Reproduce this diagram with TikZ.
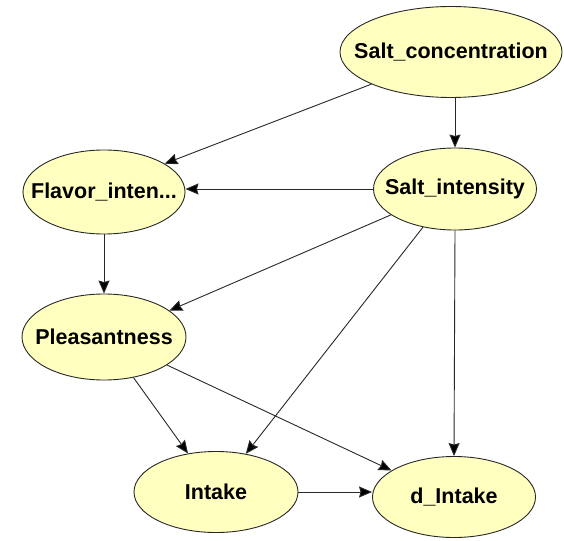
\documentclass[tikz,border=0pt]{standalone}
\usepackage{fontspec}
\setmainfont{Liberation Sans}
\usetikzlibrary{shapes.geometric,arrows.meta}
\definecolor{nodefill}{RGB}{255,255,192}
\definecolor{edgecol}{RGB}{40,40,40}
\begin{document}
\begin{tikzpicture}[x=1pt,y=-1pt,
  % negative inner sep keeps each ellipse at its set size, whatever the label width
  var/.style={ellipse,draw=edgecol,line width=0.9pt,fill=nodefill,
    inner xsep=-90pt,inner ysep=-20pt,
    font=\fontsize{21.5}{24}\selectfont\bfseries,text=black},
  link/.style={draw=edgecol,line width=0.9pt,
    -{Stealth[length=13pt,width=11pt,inset=1.5pt,fill=black]}}]
  \fill[white] (0,0) rectangle (564,540);
  \useasboundingbox (0,0) rectangle (564,540);

  \node[var,minimum width=222pt,minimum height=91pt] (SC) at (451,52) {Salt\_concentration};
  \node[var,minimum width=162pt,minimum height=84pt] (FI) at (104,192) {Flavor\_inten...};
  \node[var,minimum width=163pt,minimum height=82pt] (SI) at (455,189) {Salt\_intensity};
  \node[var,minimum width=164pt,minimum height=86pt] (PL) at (104,337) {Pleasantness};
  \node[var,minimum width=164pt,minimum height=81pt] (IN) at (216,492) {Intake};
  \node[var,minimum width=163pt,minimum height=81pt] (DI) at (454,497) {d\_Intake};

  \draw[link] (SC.202) -- (FI.25);
  \draw[link] (SI.north |- SC.south) -- (SI.north);
  \draw[link] (SI.west) -- (SI.west -| FI.east);
  \draw[link] (SI.202) -- (PL.22);
  \draw[link] (SI.230) -- (IN.52);
  \draw[link] (SI.south) -- (DI.north);
  \draw[link] (FI.south) -- (PL.north);
  \draw[link] (PL.306) -- (IN.126);
  \draw[link] (PL.336) -- (DI.157);
  \draw[link] (IN.east) -- (IN.east -| DI.west);
\end{tikzpicture}
\end{document}
